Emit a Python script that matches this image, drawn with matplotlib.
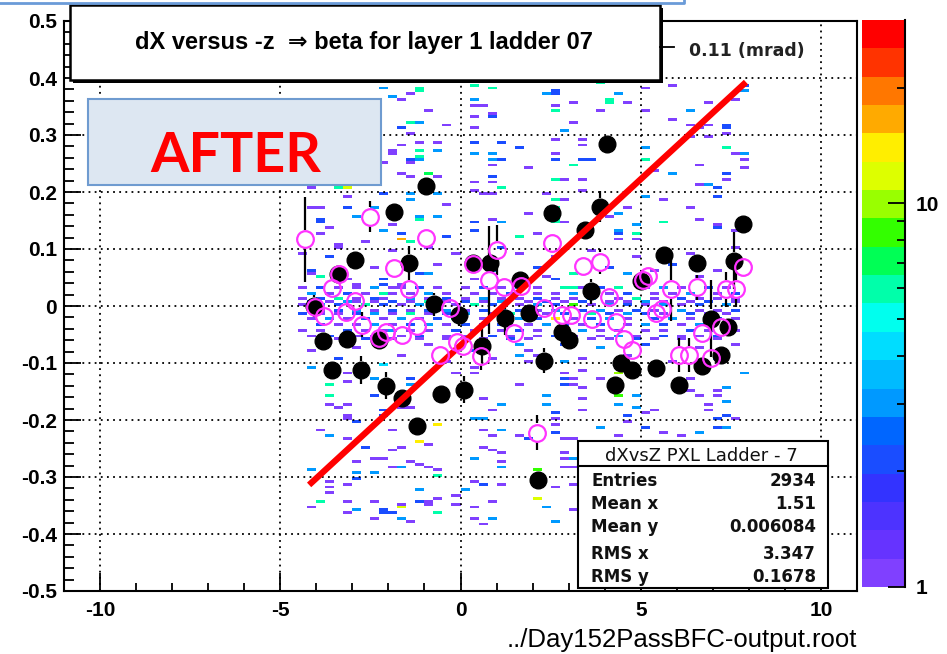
import numpy as np
import matplotlib
matplotlib.use("Agg")
import matplotlib.pyplot as plt
from matplotlib.colors import ListedColormap, LogNorm
from matplotlib.patches import Rectangle
from matplotlib.lines import Line2D
from matplotlib.ticker import MultipleLocator, FixedLocator

plt.rcParams["axes.unicode_minus"] = False

# ---- data ----
title = "dX versus -z  \u21d2 beta for layer 1 ladder 07"
file_name = "../Day152PassBFC-output.root"
stats_title = "dXvsZ PXL Ladder - 7"
stats_names = ["Entries", "Mean x", "Mean y", "RMS x", "RMS y"]
stats_values = ["2934", "1.51", "0.006084", "3.347", "0.1678"]

x_ticks = [-10, -5, 0, 5, 10]
y_ticks = [-0.5, -0.4, -0.3, -0.2, -0.1, 0.0, 0.1, 0.2, 0.3, 0.4, 0.5]
y_tick_labels = ["-0.5", "-0.4", "-0.3", "-0.2", "-0.1", "0", "0.1", "0.2", "0.3", "0.4", "0.5"]

# straight-line fit drawn in red
fit_p0, fit_p1 = -0.069, 0.0583
fit_lo, fit_hi = -4.2, 7.92

# profile 1 (black filled)  x, y, err
black_x = [-4.07, -3.81, -3.57, -3.40, -3.16, -2.92, -2.75, -2.27, -2.08, -1.85,
           -1.62, -1.43, -1.20, -0.96, -0.74, -0.54, -0.05, 0.10, 0.35, 0.60,
           0.81, 1.24, 1.64, 1.90, 2.15, 2.31, 2.55, 2.82, 3.00, 3.45,
           3.62, 3.86, 4.07, 4.28, 4.46, 4.77, 5.00, 5.42, 5.65, 6.06,
           6.55, 6.71, 6.94, 7.22, 7.41, 7.59, 7.85]
black_y = [0.000, -0.061, -0.112, 0.057, -0.058, 0.080, -0.112, -0.060, -0.140, 0.165,
           -0.162, 0.076, -0.210, 0.210, 0.003, -0.155, -0.015, -0.147, 0.076, -0.070,
           0.075, -0.021, 0.045, -0.013, -0.305, -0.096, 0.163, -0.046, -0.060, 0.133,
           0.026, 0.174, 0.285, -0.138, -0.100, -0.112, 0.043, -0.109, 0.089, -0.139,
           0.075, -0.106, -0.022, -0.086, -0.036, 0.079, 0.144]
black_err = [0.020, 0.010, 0.012, 0.012, 0.010, 0.012, 0.024, 0.015, 0.024, 0.012,
             0.012, 0.030, 0.012, 0.012, 0.020, 0.012, 0.020, 0.024, 0.015, 0.030,
             0.015, 0.030, 0.015, 0.015, 0.010, 0.022, 0.012, 0.010, 0.010, 0.012,
             0.022, 0.027, 0.010, 0.012, 0.010, 0.012, 0.010, 0.012, 0.012, 0.012,
             0.012, 0.012, 0.068, 0.012, 0.012, 0.050, 0.012]

# profile 2 (magenta open)  x, y, err
mag_x = [-4.31, -4.03, -3.80, -3.56, -3.38, -3.19, -2.92, -2.73, -2.50, -2.27,
         -2.08, -1.85, -1.62, -1.44, -1.20, -0.95, -0.56, -0.28, -0.09, 0.07,
         0.35, 0.58, 0.79, 1.02, 1.22, 1.48, 1.67, 2.13, 2.31, 2.55,
         2.82, 3.06, 3.40, 3.66, 3.87, 4.12, 4.31, 4.54, 4.77, 5.05,
         5.19, 5.42, 5.60, 5.83, 6.06, 6.34, 6.56, 6.71, 6.94, 7.22,
         7.36, 7.64, 7.85]
mag_y = [0.117, -0.001, -0.017, 0.031, 0.057, -0.010, 0.008, -0.033, 0.157, -0.057,
         -0.045, 0.066, -0.051, 0.029, -0.035, 0.119, -0.086, -0.003, -0.063, -0.071,
         0.073, -0.088, 0.046, 0.098, 0.034, -0.047, 0.035, -0.222, -0.003, 0.110,
         -0.015, -0.015, 0.070, -0.022, 0.078, 0.016, -0.028, -0.058, -0.077, 0.046,
         0.053, -0.012, -0.006, 0.029, -0.086, -0.086, 0.033, -0.047, -0.092, -0.036,
         0.029, 0.029, 0.068]
mag_err = [0.075, 0.010, 0.010, 0.012, 0.010, 0.012, 0.010, 0.022, 0.028, 0.010,
           0.010, 0.010, 0.010, 0.010, 0.010, 0.010, 0.010, 0.010, 0.010, 0.010,
           0.010, 0.024, 0.095, 0.044, 0.010, 0.010, 0.010, 0.030, 0.010, 0.010,
           0.010, 0.010, 0.010, 0.010, 0.022, 0.010, 0.010, 0.010, 0.010, 0.010,
           0.010, 0.010, 0.010, 0.055, 0.030, 0.030, 0.022, 0.010, 0.010, 0.010,
           0.030, 0.030, 0.010]

# 2D histogram cells (x, y, entries)
cells_upper = [
    (-2.08, 0.382, 3), (-1.86, 0.367, 3), (-1.62, 0.360, 1), (-1.44, 0.373, 1),
    (-1.03, 0.384, 6), (-1.03, 0.376, 6), (-0.97, 0.343, 1), (-1.44, 0.325, 6),
    (-1.25, 0.322, 3), (-1.62, 0.315, 1), (-1.72, 0.314, 1), (-1.39, 0.303, 1),
    (-0.65, 0.290, 1), (-1.03, 0.286, 1), (-1.86, 0.274, 1), (-1.62, 0.280, 1),
    (-1.03, 0.272, 6), (-1.03, 0.262, 6), (-0.56, 0.270, 3), (-1.44, 0.258, 2),
    (-1.25, 0.258, 3), (-1.94, 0.265, 1), (-2.13, 0.250, 1), (-1.39, 0.251, 1),
    (-1.62, 0.234, 1), (-0.97, 0.234, 6), (-1.44, 0.225, 1), (-0.89, 0.233, 1),
    (-0.61, 0.227, 1), (-3.19, 0.206, 12), (-3.42, 0.208, 6), (-3.15, 0.192, 1),
    (-4.12, 0.206, 1), (-2.08, 0.200, 2), (-1.39, 0.198, 3), (-1.44, 0.190, 3),
    (-0.56, 0.198, 3), (-4.08, 0.174, 1), (-3.84, 0.171, 1), (-3.19, 0.174, 2),
    (-3.84, 0.154, 2), (-3.84, 0.149, 2), (-3.67, 0.139, 1), (-3.89, 0.128, 1),
    (-2.78, 0.157, 3), (-2.31, 0.174, 3), (-2.08, 0.133, 3), (-1.86, 0.144, 1),
    (-1.03, 0.160, 3), (-1.03, 0.154, 6), (-0.56, 0.156, 3), (-1.67, 0.125, 2),
    (-1.67, 0.116, 18), (-3.42, 0.107, 1), (-2.64, 0.110, 1), (-1.44, 0.110, 6),
    (-0.97, 0.102, 1), (-4.17, 0.063, 2), (-4.03, 0.057, 1), (-3.89, 0.054, 6),
    (-3.01, 0.046, 1), (-3.00, 0.040, 1), (-2.08, 0.046, 2), (-2.08, 0.037, 2),
    (-1.62, 0.040, 1), (-0.30, 0.320, 1), (-0.30, 0.180, 1), (-0.30, 0.120, 2),
    (0.32, 0.385, 6), (0.97, 0.384, 6), (2.50, 0.376, 2), (2.50, 0.371, 2),
    (2.36, 0.372, 3), (3.80, 0.393, 6), (0.32, 0.364, 3), (0.32, 0.352, 1),
    (0.74, 0.350, 1), (0.97, 0.338, 1), (0.97, 0.332, 2), (2.50, 0.352, 1),
    (2.50, 0.341, 6), (3.19, 0.355, 1), (3.19, 0.325, 1), (3.80, 0.343, 1),
    (4.07, 0.358, 6), (0.32, 0.332, 1), (0.32, 0.311, 1), (2.78, 0.307, 3),
    (2.50, 0.291, 1), (3.47, 0.294, 1), (3.43, 0.285, 1), (0.32, 0.287, 2),
    (1.20, 0.288, 2), (0.32, 0.269, 3), (0.79, 0.269, 3), (1.62, 0.276, 2),
    (2.50, 0.259, 2), (2.50, 0.266, 1), (0.79, 0.259, 3), (1.20, 0.258, 2),
    (3.47, 0.259, 2), (3.60, 0.256, 2), (0.93, 0.245, 1), (1.85, 0.241, 1),
    (3.19, 0.245, 6), (0.79, 0.227, 2), (0.79, 0.218, 1), (0.32, 0.218, 1),
    (2.50, 0.224, 6), (2.78, 0.224, 1), (3.43, 0.221, 1), (1.20, 0.206, 6),
    (0.32, 0.202, 1), (0.74, 0.197, 1), (0.93, 0.197, 1), (2.36, 0.197, 1),
    (2.50, 0.189, 6), (2.50, 0.174, 6), (2.96, 0.186, 1), (3.43, 0.203, 1),
    (1.85, 0.163, 1), (0.32, 0.149, 2), (0.97, 0.153, 1), (1.20, 0.146, 3),
    (2.50, 0.155, 6), (2.50, 0.146, 6), (2.08, 0.125, 1), (1.62, 0.122, 6),
    (0.32, 0.130, 2), (2.96, 0.146, 1), (3.43, 0.120, 1), (0.32, 0.050, 1),
    (2.50, 0.046, 2), (3.00, 0.034, 6),
    (4.31, 0.370, 3), (4.12, 0.360, 6), (4.72, 0.356, 1), (5.19, 0.380, 1),
    (5.83, 0.385, 1), (5.19, 0.343, 1), (6.48, 0.343, 3), (5.83, 0.329, 1),
    (7.82, 0.385, 2), (7.82, 0.376, 3), (7.59, 0.360, 1), (6.94, 0.356, 1),
    (6.29, 0.316, 1), (6.53, 0.315, 1), (6.90, 0.316, 1), (7.36, 0.318, 2),
    (7.36, 0.312, 2), (7.36, 0.305, 1), (6.48, 0.298, 1), (6.90, 0.298, 1),
    (5.19, 0.276, 3), (5.14, 0.256, 6), (7.36, 0.276, 6), (7.59, 0.266, 1),
    (7.82, 0.266, 3), (7.82, 0.258, 1), (6.71, 0.249, 1), (5.83, 0.231, 3),
    (5.42, 0.236, 1), (7.82, 0.241, 1), (7.45, 0.230, 2), (7.45, 0.224, 1),
    (6.53, 0.214, 1), (6.90, 0.210, 3), (7.13, 0.206, 2), (7.13, 0.191, 2),
    (5.19, 0.191, 3), (5.60, 0.186, 1), (4.72, 0.175, 1), (4.44, 0.165, 3),
    (6.48, 0.172, 1), (5.60, 0.147, 6), (4.95, 0.145, 3), (6.71, 0.151, 1),
    (7.13, 0.145, 1), (7.13, 0.139, 2), (4.21, 0.156, 1), (4.49, 0.133, 3),
    (4.95, 0.128, 6), (4.30, 0.128, 2), (7.68, 0.130, 1), (4.44, 0.119, 1),
    (4.95, 0.116, 1),
]

cells_band = [
    (-4.3, 0.09, 1), (-3.7, 0.085, 2), (-3.0, 0.075, 1), (-2.4, 0.07, 1), (-1.9, 0.095, 1),
    (-1.2, 0.06, 2), (-0.6, 0.075, 1), (-0.2, 0.09, 1), (0.3, 0.08, 1), (0.9, 0.065, 3),
    (1.5, 0.09, 1), (2.0, 0.07, 2), (2.7, 0.085, 1), (3.1, 0.06, 6), (3.6, 0.095, 1),
    (4.2, 0.07, 2), (4.8, 0.085, 1), (5.3, 0.065, 1), (5.9, 0.075, 2), (6.4, 0.09, 1),
    (7.0, 0.062, 1), (7.5, 0.10, 1), (-3.3, 0.10, 1), (-0.9, 0.058, 3), (1.2, 0.10, 2),
    (2.3, 0.055, 1), (4.5, 0.058, 3), (6.7, 0.052, 1),
    (-4.3, 0.035, 1), (-3.9, 0.035, 2), (-3.4, 0.035, 1), (-2.9, 0.035, 1), (-2.4, 0.035, 3),
    (-2.0, 0.035, 1), (-1.6, 0.035, 1), (-1.1, 0.035, 2), (-0.6, 0.035, 1), (0.1, 0.035, 1),
    (0.6, 0.035, 2), (1.1, 0.035, 1), (1.7, 0.035, 3), (2.2, 0.035, 1), (2.8, 0.035, 6),
    (3.3, 0.035, 1), (3.9, 0.035, 2), (4.4, 0.035, 6), (5.1, 0.035, 1), (5.6, 0.035, 3),
    (6.2, 0.035, 1), (6.8, 0.035, 2), (7.4, 0.035, 1),
    (-4.1, 0.025, 3), (-3.6, 0.025, 1), (-3.1, 0.025, 2), (-2.6, 0.025, 1), (-2.2, 0.025, 6),
    (-1.8, 0.025, 1), (-1.3, 0.025, 1), (-0.8, 0.025, 3), (-0.3, 0.025, 1), (0.3, 0.025, 1),
    (0.9, 0.025, 1), (1.4, 0.025, 2), (2.0, 0.025, 1), (2.6, 0.025, 1), (3.1, 0.025, 3),
    (3.6, 0.025, 1), (4.2, 0.025, 1), (4.7, 0.025, 2), (5.3, 0.025, 1), (5.9, 0.025, 1),
    (6.4, 0.025, 3), (7.0, 0.025, 1), (7.6, 0.025, 2),
    (-4.4, 0.015, 1), (-4.0, 0.015, 2), (-3.5, 0.015, 6), (-3.0, 0.015, 1), (-2.5, 0.015, 2),
    (-2.1, 0.015, 1), (-1.5, 0.015, 3), (-1.0, 0.015, 1), (-0.5, 0.015, 2), (0.0, 0.015, 1),
    (0.5, 0.015, 3), (1.0, 0.015, 1), (1.6, 0.015, 1), (2.1, 0.015, 2), (2.7, 0.015, 1),
    (3.2, 0.015, 1), (3.7, 0.015, 3), (4.3, 0.015, 1), (4.9, 0.015, 6), (5.4, 0.015, 1),
    (6.0, 0.015, 2), (6.6, 0.015, 1), (7.2, 0.015, 1), (7.7, 0.015, 1),
    (-4.2, 0.008, 2), (-3.7, 0.008, 1), (-3.2, 0.008, 3), (-2.8, 0.008, 1), (-2.3, 0.008, 1),
    (-1.9, 0.008, 2), (-1.4, 0.008, 1), (-0.9, 0.008, 6), (-0.4, 0.008, 1), (0.2, 0.008, 2),
    (0.7, 0.008, 1), (1.2, 0.008, 3), (1.8, 0.008, 1), (2.4, 0.008, 2), (2.9, 0.008, 1),
    (3.4, 0.008, 2), (4.0, 0.008, 1), (4.6, 0.008, 1), (5.1, 0.008, 3), (5.7, 0.008, 1),
    (6.3, 0.008, 1), (6.9, 0.008, 2), (7.5, 0.008, 1),
    (-4.3, 0.001, 1), (-3.8, 0.001, 3), (-3.3, 0.001, 2), (-2.7, 0.001, 6), (-2.2, 0.001, 2),
    (-1.7, 0.001, 1), (-1.2, 0.001, 3), (-0.7, 0.001, 2), (-0.2, 0.001, 1), (0.4, 0.001, 6),
    (0.9, 0.001, 2), (1.5, 0.001, 1), (2.0, 0.001, 3), (2.5, 0.001, 2), (3.0, 0.001, 8),
    (3.5, 0.001, 1), (4.1, 0.001, 3), (4.5, 0.001, 2), (5.0, 0.001, 1), (5.5, 0.001, 3),
    (6.1, 0.001, 1), (6.7, 0.001, 2), (7.3, 0.001, 3),
    (-4.0, -0.007, 1), (-3.5, -0.007, 2), (-3.0, -0.007, 3), (-2.5, -0.007, 1), (-2.0, -0.007, 2),
    (-1.5, -0.007, 1), (-1.0, -0.007, 2), (-0.5, -0.007, 3), (0.0, -0.007, 1), (0.6, -0.007, 2),
    (1.1, -0.007, 3), (1.6, -0.007, 2), (2.2, -0.007, 1), (2.7, -0.007, 3), (3.3, -0.007, 2),
    (3.8, -0.007, 3), (4.3, -0.007, 1), (4.8, -0.007, 2), (5.4, -0.007, 1), (6.0, -0.007, 3),
    (6.5, -0.007, 1), (7.1, -0.007, 1), (7.7, -0.007, 2),
    (-4.4, -0.014, 2), (-3.9, -0.014, 1), (-3.4, -0.014, 1), (-2.9, -0.014, 2), (-2.4, -0.014, 3),
    (-1.9, -0.014, 1), (-1.4, -0.014, 6), (-0.9, -0.014, 1), (-0.3, -0.014, 2), (0.2, -0.014, 3),
    (0.8, -0.014, 1), (1.3, -0.014, 6), (1.9, -0.014, 3), (2.4, -0.014, 1), (2.9, -0.014, 2),
    (3.5, -0.014, 6), (4.0, -0.014, 2), (4.6, -0.014, 3), (5.2, -0.014, 2), (5.7, -0.014, 1),
    (6.3, -0.014, 2), (6.8, -0.014, 1), (7.4, -0.014, 1),
    (-4.2, -0.021, 1), (-3.7, -0.021, 3), (-3.2, -0.021, 1), (-2.6, -0.021, 2), (-2.1, -0.021, 1),
    (-1.6, -0.021, 3), (-1.1, -0.021, 1), (-0.6, -0.021, 2), (-0.1, -0.021, 6), (0.5, -0.021, 1),
    (1.0, -0.021, 2), (1.5, -0.021, 3), (2.1, -0.021, 2), (2.6, -0.021, 15), (3.1, -0.021, 1),
    (3.7, -0.021, 2), (4.2, -0.021, 3), (4.7, -0.021, 1), (5.3, -0.021, 2), (5.8, -0.021, 3),
    (6.4, -0.021, 1), (7.0, -0.021, 2), (7.5, -0.021, 1),
    (-4.0, -0.03, 2), (-3.5, -0.03, 1), (-3.0, -0.03, 1), (-2.5, -0.03, 3), (-2.0, -0.03, 1),
    (-1.5, -0.03, 2), (-1.0, -0.03, 3), (-0.4, -0.03, 1), (0.1, -0.03, 2), (0.7, -0.03, 1),
    (1.2, -0.03, 2), (1.8, -0.03, 1), (2.3, -0.03, 3), (2.9, -0.03, 2), (3.4, -0.03, 1),
    (3.9, -0.03, 2), (4.5, -0.03, 1), (5.0, -0.03, 3), (5.6, -0.03, 2), (6.2, -0.03, 1),
    (6.7, -0.03, 3), (7.3, -0.03, 1),
    (-4.3, -0.04, 1), (-3.8, -0.04, 1), (-3.1, -0.04, 2), (-2.7, -0.04, 1), (-2.2, -0.04, 1),
    (-1.8, -0.04, 3), (-1.3, -0.04, 1), (-0.8, -0.04, 1), (-0.2, -0.04, 2), (0.4, -0.04, 1),
    (1.0, -0.04, 1), (1.6, -0.04, 2), (2.2, -0.04, 1), (2.8, -0.04, 1), (3.3, -0.04, 3),
    (3.9, -0.04, 1), (4.4, -0.04, 2), (5.1, -0.04, 1), (5.7, -0.04, 1), (6.3, -0.04, 2),
    (6.9, -0.04, 1), (7.6, -0.04, 1),
    (-4.1, -0.05, 1), (-3.6, -0.05, 2), (-2.9, -0.05, 1), (-2.4, -0.05, 1), (-1.7, -0.05, 1),
    (-1.1, -0.05, 2), (-0.5, -0.05, 1), (0.2, -0.05, 1), (0.8, -0.05, 2), (1.4, -0.05, 1),
    (2.0, -0.05, 1), (2.6, -0.05, 2), (3.2, -0.05, 1), (3.8, -0.05, 1), (4.3, -0.05, 3),
    (4.9, -0.05, 1), (5.5, -0.05, 2), (6.1, -0.05, 1), (6.6, -0.05, 1), (7.2, -0.05, 2),
    (-3.9, -0.06, 1), (-3.3, -0.06, 1), (-2.6, -0.06, 2), (-1.9, -0.06, 1), (-1.2, -0.06, 1),
    (-0.4, -0.06, 1), (0.6, -0.06, 1), (1.3, -0.06, 2), (1.9, -0.06, 1), (2.8, -0.06, 1),
    (3.5, -0.06, 1), (4.1, -0.06, 1), (4.8, -0.06, 2), (5.4, -0.06, 1), (6.0, -0.06, 1),
    (7.0, -0.06, 1),
    (-4.2, -0.08, 1), (-3.4, -0.09, 2), (-2.9, -0.075, 1), (-2.1, -0.10, 2), (-1.6, -0.085, 1),
    (-0.9, -0.07, 1), (-0.3, -0.095, 1), (0.3, -0.08, 2), (0.9, -0.09, 1), (1.5, -0.07, 3),
    (2.1, -0.085, 1), (2.9, -0.07, 2), (3.4, -0.09, 1), (3.9, -0.075, 3), (4.6, -0.085, 1),
    (5.2, -0.07, 2), (5.8, -0.095, 1), (6.5, -0.075, 1), (7.1, -0.09, 2), (7.6, -0.07, 1),
]

cells_lower = [
    (-4.07, -0.106, 3), (-3.66, -0.139, 6), (-3.66, -0.159, 6), (-3.66, -0.174, 1),
    (-3.43, -0.177, 1), (-3.19, -0.174, 1), (-3.19, -0.191, 1), (-3.19, -0.197, 1),
    (-3.84, -0.215, 1), (-3.66, -0.225, 3), (-3.19, -0.232, 1), (-2.78, -0.205, 2),
    (-2.73, -0.247, 2), (-2.78, -0.273, 1), (-2.31, -0.270, 1), (-2.08, -0.267, 1),
    (-2.78, -0.295, 3), (-2.50, -0.295, 3), (-2.78, -0.302, 2), (-1.90, -0.215, 1),
    (-1.85, -0.254, 1), (-1.62, -0.250, 1), (-1.85, -0.285, 1), (-1.62, -0.285, 3),
    (-1.44, -0.275, 1), (-1.20, -0.277, 1), (-0.97, -0.285, 1), (-0.58, -0.206, 15),
    (-1.25, -0.238, 15), (-0.97, -0.242, 1), (-0.58, -0.289, 1), (-0.58, -0.298, 6),
    (-4.07, -0.288, 3), (-3.66, -0.308, 1), (-3.66, -0.320, 1), (-3.66, -0.329, 1),
    (-3.19, -0.312, 1), (-3.84, -0.343, 6), (-4.07, -0.353, 1), (-3.19, -0.340, 1),
    (-3.19, -0.364, 1), (-2.78, -0.358, 3), (-2.31, -0.340, 1), (-2.08, -0.358, 2),
    (-2.08, -0.364, 2), (-2.31, -0.375, 1), (-1.85, -0.361, 2), (-1.62, -0.346, 1),
    (-1.62, -0.355, 12), (-1.62, -0.375, 3), (-1.44, -0.378, 1), (-1.20, -0.323, 3),
    (-1.20, -0.343, 2), (-0.97, -0.346, 1), (-0.79, -0.343, 1), (-0.58, -0.337, 1),
    (-0.58, -0.364, 6), (-2.08, -0.100, 2), (-2.31, -0.130, 3), (-2.31, -0.159, 2),
    (-3.24, -0.118, 1), (-3.24, -0.133, 1), (-1.44, -0.130, 2), (-1.44, -0.139, 3),
    (-1.44, -0.177, 1), (-1.62, -0.177, 1), (-2.13, -0.182, 2), (-2.08, -0.195, 2),
    (-0.14, -0.115, 1), (0.32, -0.106, 1), (0.32, -0.118, 1), (0.56, -0.162, 1),
    (0.79, -0.182, 1), (1.20, -0.171, 3), (1.62, -0.137, 1), (1.62, -0.086, 3),
    (1.85, -0.080, 1), (1.85, -0.095, 1), (2.31, -0.156, 3), (2.31, -0.170, 3),
    (2.78, -0.095, 3), (2.78, -0.118, 1), (2.78, -0.130, 2), (2.78, -0.139, 2),
    (3.00, -0.130, 1), (3.00, -0.139, 1), (3.43, -0.112, 1), (3.43, -0.141, 1),
    (3.43, -0.162, 1), (3.43, -0.185, 1), (3.80, -0.130, 1), (2.50, -0.188, 2),
    (2.50, -0.197, 1), (0.32, -0.197, 3), (0.56, -0.197, 3), (0.56, -0.215, 1),
    (0.79, -0.225, 1), (1.20, -0.218, 3), (1.62, -0.225, 1), (1.85, -0.230, 2),
    (2.50, -0.223, 2), (2.50, -0.210, 1), (2.78, -0.232, 1), (3.00, -0.235, 1),
    (3.80, -0.214, 3), (0.56, -0.247, 1), (0.79, -0.252, 1), (1.20, -0.260, 1),
    (0.32, -0.270, 3), (1.00, -0.283, 3), (1.20, -0.275, 1), (2.78, -0.260, 1),
    (2.78, -0.267, 1), (2.78, -0.282, 1), (3.00, -0.282, 1), (0.28, -0.308, 1),
    (0.56, -0.311, 2), (1.00, -0.311, 1), (2.50, -0.316, 1), (2.18, -0.288, 8),
    (2.13, -0.337, 12), (2.31, -0.355, 3), (2.55, -0.378, 3), (0.79, -0.340, 1),
    (0.32, -0.355, 1), (0.32, -0.372, 1), (0.79, -0.375, 3), (0.56, -0.384, 1),
    (0.09, -0.323, 3), (-0.09, -0.332, 1), (-0.09, -0.349, 1), (3.15, -0.311, 1),
    (3.15, -0.358, 1), (3.15, -0.267, 3),
    (4.31, -0.118, 10), (4.49, -0.159, 8), (4.49, -0.174, 3), (4.26, -0.229, 1),
    (4.77, -0.159, 3), (4.77, -0.179, 3), (4.68, -0.191, 2), (5.42, -0.182, 1),
    (5.00, -0.188, 1), (6.29, -0.129, 1), (6.29, -0.147, 1), (6.71, -0.159, 1),
    (7.13, -0.147, 1), (7.13, -0.159, 1), (7.36, -0.144, 3), (7.36, -0.166, 3),
    (6.94, -0.172, 1), (6.94, -0.182, 1), (7.82, -0.118, 3), (7.17, -0.197, 2),
    (7.36, -0.194, 2), (7.59, -0.200, 1), (7.17, -0.212, 2), (7.36, -0.212, 3),
    (4.50, -0.205, 1), (5.00, -0.212, 2), (5.60, -0.220, 1), (6.10, -0.228, 1),
    (6.50, -0.222, 3), (4.05, -0.250, 1),
]

# ROOT style palette, bottom to top
palette = ["#8040ff", "#6633ff", "#4d33ff", "#3333ff", "#1a4dff", "#0066ff", "#0099ff",
           "#00bbff", "#00ddff", "#00ffee", "#00ffaa", "#00ff55", "#33ff00",
           "#99ff00", "#ddff00", "#ffee00", "#ffaa00", "#ff7700", "#ff3300", "#ff0000"]
z_min, z_max = 1, 30

W, H = 947, 654


def fx(px):
    return px / W


def fy(py):
    return 1 - py / H


fig = plt.figure(figsize=(W / 100, H / 100), dpi=100)
ax = fig.add_axes([fx(64), fy(591), (857 - 64) / W, (591 - 21) / H])

bold = dict(family=["Liberation Sans", "DejaVu Sans"], weight="bold")

# 2D histogram
x_edges = np.arange(-11, 11.001, 0.25)
y_edges = np.linspace(-0.5, 0.5, 201)
cells = cells_upper + cells_band + cells_lower
cx = [c[0] for c in cells]
cy = [c[1] for c in cells]
cn = [c[2] for c in cells]
counts, xe, ye = np.histogram2d(cx, cy, bins=[x_edges, y_edges], weights=cn)
counts = np.ma.masked_less(counts, 0.5)
cmap = ListedColormap(palette)
mesh = ax.pcolormesh(xe, ye, counts.T, cmap=cmap, norm=LogNorm(z_min, z_max), zorder=1)


def error_bars(xs, ys, es, gap=0.016):
    # ROOT leaves the marker itself free of the error bar
    xs, ys, es = np.asarray(xs), np.asarray(ys), np.asarray(es)
    keep = es > gap
    ax.vlines(xs[keep], ys[keep] + gap, ys[keep] + es[keep], color="black", lw=1.6, zorder=3)
    ax.vlines(xs[keep], ys[keep] - es[keep], ys[keep] - gap, color="black", lw=1.6, zorder=3)


# profiles
error_bars(black_x, black_y, black_err)
ax.plot(black_x, black_y, "o", color="black", ms=12, zorder=4)
fx_line = np.array([fit_lo, fit_hi])
ax.plot(fx_line, fit_p0 + fit_p1 * fx_line, color="#ff0000", lw=4.5,
        solid_capstyle="butt", zorder=5)
error_bars(mag_x, mag_y, mag_err)
ax.plot(mag_x, mag_y, "o", mfc="none", mec="#ff33ff", mew=1.6, ms=12, zorder=6)

ax.set_xlim(-11, 11)
ax.set_ylim(-0.5, 0.5)
ax.set_xticks(x_ticks)
ax.set_yticks(y_ticks)
ax.set_yticklabels(y_tick_labels)
ax.xaxis.set_minor_locator(MultipleLocator(1))
ax.yaxis.set_minor_locator(MultipleLocator(0.02))
ax.tick_params(which="both", direction="in", top=False, right=False, width=1.3)
ax.tick_params(axis="x", which="major", length=13, pad=7)
ax.tick_params(axis="x", which="minor", length=6)
ax.tick_params(axis="y", which="major", length=12, pad=5)
ax.tick_params(axis="y", which="minor", length=7)
for lab in ax.get_xticklabels() + ax.get_yticklabels():
    lab.set_fontsize(15)
    lab.set_fontfamily(["Liberation Sans", "DejaVu Sans"])
    lab.set_fontweight("bold")
for s in ax.spines.values():
    s.set_linewidth(1.5)
ax.set_axisbelow(False)
ax.grid(True, which="major", color="black", lw=1.3, ls=(0, (1, 2.4)), zorder=2)

# colour palette on the right
cax = fig.add_axes([fx(862), fy(587), 43 / W, 567 / H])
cb = fig.colorbar(mesh, cax=cax)
cb.outline.set_visible(False)
cax.yaxis.set_major_locator(FixedLocator([1, 10]))
cax.yaxis.set_minor_locator(FixedLocator([2, 3, 4, 5, 6, 7, 8, 9, 20]))
cax.set_yticklabels(["1", "10"])
cax.tick_params(which="both", direction="in", right=True, left=False, width=1.3)
cax.tick_params(which="major", length=12, pad=8)
cax.tick_params(which="minor", length=6)
for lab in cax.get_yticklabels():
    lab.set_fontsize(15)
    lab.set_fontfamily(["Liberation Sans", "DejaVu Sans"])
    lab.set_fontweight("bold")
cax.add_line(Line2D([1, 1], [0, 1], transform=cax.transAxes, color="black",
                    lw=1.5, clip_on=False))


def box(x0, y0, x1, y1, **kw):
    r = Rectangle((fx(x0), fy(y1)), (x1 - x0) / W, (y1 - y0) / H,
                  transform=fig.transFigure, **kw)
    fig.add_artist(r)
    return r


# partly hidden legend text
fig.text(fx(689), fy(56), "0.11 (mrad)", fontsize=12.5, color="#222222",
         family="DejaVu Sans", weight="bold")
fig.add_artist(Line2D([fx(660), fx(674)], [fy(47), fy(47)], transform=fig.transFigure,
                      color="black", lw=1.3))

# title box with shadow
box(73, 8, 663, 83, facecolor="black", edgecolor="black", lw=0)
box(70, 5, 660, 80, facecolor="white", edgecolor="black", lw=1.8)
fig.text(fx(364), fy(49), title, fontsize=17, ha="center", va="baseline", **bold)

# AFTER label
box(88, 99, 381, 185, facecolor="#dde7f2", edgecolor="#6f9bd0", lw=1.5)
fig.text(fx(236), fy(172), "AFTER", fontsize=40, color="#ff0000", ha="center",
         va="baseline", family=["Lato", "DejaVu Sans"], weight="bold")

# stats box
box(578, 441, 828, 588, facecolor="white", edgecolor="black", lw=1.5)
fig.add_artist(Line2D([fx(578), fx(828)], [fy(466), fy(466)], transform=fig.transFigure,
                      color="black", lw=1.5))
fig.text(fx(701), fy(461), stats_title, fontsize=13, ha="center", va="baseline",
         family="DejaVu Sans", color="#111111")
row_base = [486, 509, 532, 559, 582]
for name, val, yb in zip(stats_names, stats_values, row_base):
    fig.text(fx(591), fy(yb), name, fontsize=12, va="baseline",
             family="DejaVu Sans", weight="bold", color="#111111")
    fig.text(fx(816), fy(yb), val, fontsize=12, ha="right", va="baseline",
             family="DejaVu Sans", weight="bold", color="#111111")

# file name
fig.text(fx(857), fy(647), file_name, fontsize=18.5, ha="right", va="baseline",
         family=["Liberation Sans", "DejaVu Sans"])

# blue frame edge at the top
fig.add_artist(Line2D([0, fx(684), fx(684)], [fy(3), fy(3), fy(0)],
                      transform=fig.transFigure, color="#6a9bd8", lw=2))

fig.savefig("out.png", dpi=100)
